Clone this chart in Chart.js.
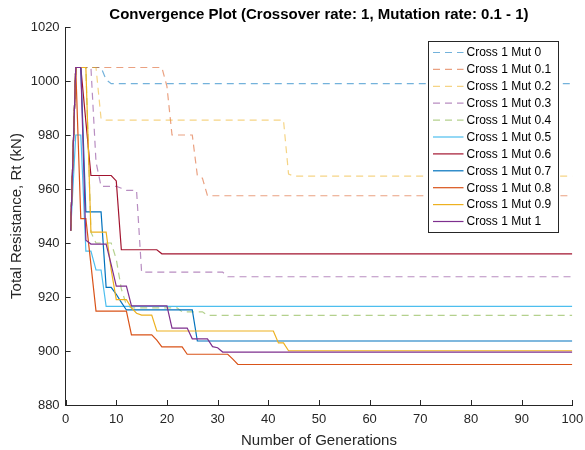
<!DOCTYPE html>
<html><head><meta charset="utf-8">
<script src="https://cdn.jsdelivr.net/npm/chart.js@4/dist/chart.umd.min.js"></script>
<style>html,body{margin:0;padding:0;background:#fff;}canvas{display:block;}</style>
</head><body>
<canvas id="c" width="585" height="450"></canvas>
<script>
const generations = [
1,2,3,4,5,6,7,8,9,10,11,12,13,14,15,16,17,18,19,20,
21,22,23,24,25,26,27,28,29,30,31,32,33,34,35,36,37,38,39,40,
41,42,43,44,45,46,47,48,49,50,51,52,53,54,55,56,57,58,59,60,
61,62,63,64,65,66,67,68,69,70,71,72,73,74,75,76,77,78,79,80,
81,82,83,84,85,86,87,88,89,90,91,92,93,94,95,96,97,98,99,100];

const seriesNames = ["Cross 1 Mut 0","Cross 1 Mut 0.1","Cross 1 Mut 0.2","Cross 1 Mut 0.3","Cross 1 Mut 0.4","Cross 1 Mut 0.5","Cross 1 Mut 0.6","Cross 1 Mut 0.7","Cross 1 Mut 0.8","Cross 1 Mut 0.9","Cross 1 Mut 1"];

const xTickValues = [0,10,20,30,40,50,60,70,80,90,100];
const yTickValues = [880,900,920,940,960,980,1000,1020];

const mut00 = [
944.5,1005,1005,1005,1005,1005,1005,1000.5,999,999,
999,999,999,999,999,999,999,999,999,999,
999,999,999,999,999,999,999,999,999,999,
999,999,999,999,999,999,999,999,999,999,
999,999,999,999,999,999,999,999,999,999,
999,999,999,999,999,999,999,999,999,999,
999,999,999,999,999,999,999,999,999,999,
999,999,999,999,999,999,999,999,999,999,
999,999,999,999,999,999,999,999,999,999,
999,999,999,999,999,999,999,999,999,999];
const mut01 = [
944.5,1005,1005,1005,1005,1005,1005,1005,1005,1005,
1005,1005,1005,1005,1005,1005,1005,1005,1005,998,
980,980,980,980,980,965,964,957.5,957.5,957.5,
957.5,957.5,957.5,957.5,957.5,957.5,957.5,957.5,957.5,957.5,
957.5,957.5,957.5,957.5,957.5,957.5,957.5,957.5,957.5,957.5,
957.5,957.5,957.5,957.5,957.5,957.5,957.5,957.5,957.5,957.5,
957.5,957.5,957.5,957.5,957.5,957.5,957.5,957.5,957.5,957.5,
957.5,957.5,957.5,957.5,957.5,957.5,957.5,957.5,957.5,957.5,
957.5,957.5,957.5,957.5,957.5,957.5,957.5,957.5,957.5,957.5,
957.5,957.5,957.5,957.5,957.5,957.5,957.5,957.5,957.5,957.5];
const mut02 = [
944.5,1005,1005,1005,1005,1005,986,985.5,985.5,985.5,
985.5,985.5,985.5,985.5,985.5,985.5,985.5,985.5,985.5,985.5,
985.5,985.5,985.5,985.5,985.5,985.5,985.5,985.5,985.5,985.5,
985.5,985.5,985.5,985.5,985.5,985.5,985.5,985.5,985.5,985.5,
985.5,985.5,985.5,965.5,964.8,964.8,964.8,964.8,964.8,964.8,
964.8,964.8,964.8,964.8,964.8,964.8,964.8,964.8,964.8,964.8,
964.8,964.8,964.8,964.8,964.8,964.8,964.8,964.8,964.8,964.8,
964.8,964.8,964.8,964.8,964.8,964.8,964.8,964.8,964.8,964.8,
964.8,964.8,964.8,964.8,964.8,964.8,964.8,964.8,964.8,964.8,
964.8,964.8,964.8,964.8,964.8,964.8,964.8,964.8,964.8,964.8];
const mut03 = [
944.5,1005,1005,1005,1005,970,961,961,961,961,
960.3,959.5,959.5,959.5,929.2,929.2,929.2,929.2,929.2,929.2,
929.2,929.2,929.2,929.2,929.2,929.2,929.2,929.2,929.2,929.2,
929.2,927.5,927.5,927.5,927.5,927.5,927.5,927.5,927.5,927.5,
927.5,927.5,927.5,927.5,927.5,927.5,927.5,927.5,927.5,927.5,
927.5,927.5,927.5,927.5,927.5,927.5,927.5,927.5,927.5,927.5,
927.5,927.5,927.5,927.5,927.5,927.5,927.5,927.5,927.5,927.5,
927.5,927.5,927.5,927.5,927.5,927.5,927.5,927.5,927.5,927.5,
927.5,927.5,927.5,927.5,927.5,927.5,927.5,927.5,927.5,927.5,
927.5,927.5,927.5,927.5,927.5,927.5,927.5,927.5,927.5,927.5];
const mut04 = [
944.5,1005,1005,1005,944,940,940,940,940,934,
923,917,916,916,916,916,916,916,916,916,
916,916,914.5,914.5,914.5,914.5,914.5,913.2,913.2,913.2,
913.2,913.2,913.2,913.2,913.2,913.2,913.2,913.2,913.2,913.2,
913.2,913.2,913.2,913.2,913.2,913.2,913.2,913.2,913.2,913.2,
913.2,913.2,913.2,913.2,913.2,913.2,913.2,913.2,913.2,913.2,
913.2,913.2,913.2,913.2,913.2,913.2,913.2,913.2,913.2,913.2,
913.2,913.2,913.2,913.2,913.2,913.2,913.2,913.2,913.2,913.2,
913.2,913.2,913.2,913.2,913.2,913.2,913.2,913.2,913.2,913.2,
913.2,913.2,913.2,913.2,913.2,913.2,913.2,913.2,913.2,913.2];
const mut05 = [
944.5,980,980,937,937,930,930,916.5,916.5,916.5,
916.5,916.5,916.5,916.5,916.5,916.5,916.5,916.5,916.5,916.5,
916.5,916.5,916.5,916.5,916.5,916.5,916.5,916.5,916.5,916.5,
916.5,916.5,916.5,916.5,916.5,916.5,916.5,916.5,916.5,916.5,
916.5,916.5,916.5,916.5,916.5,916.5,916.5,916.5,916.5,916.5,
916.5,916.5,916.5,916.5,916.5,916.5,916.5,916.5,916.5,916.5,
916.5,916.5,916.5,916.5,916.5,916.5,916.5,916.5,916.5,916.5,
916.5,916.5,916.5,916.5,916.5,916.5,916.5,916.5,916.5,916.5,
916.5,916.5,916.5,916.5,916.5,916.5,916.5,916.5,916.5,916.5,
916.5,916.5,916.5,916.5,916.5,916.5,916.5,916.5,916.5,916.5];
const mut06 = [
944.5,1005,1005,985,965,965,965,965,965,963,
937.5,937.5,937.5,937.5,937.5,937.5,937.5,937.5,936,936,
936,936,936,936,936,936,936,936,936,936,
936,936,936,936,936,936,936,936,936,936,
936,936,936,936,936,936,936,936,936,936,
936,936,936,936,936,936,936,936,936,936,
936,936,936,936,936,936,936,936,936,936,
936,936,936,936,936,936,936,936,936,936,
936,936,936,936,936,936,936,936,936,936,
936,936,936,936,936,936,936,936,936,936];
const mut07 = [
944.5,1005,1005,951.5,951.5,951.5,951.5,923.6,923.6,921,
918,915.2,915.2,915.2,915.2,915.2,915.2,915.2,915.2,915.2,
915.2,915.2,915.2,915.2,915.2,903.7,903.7,903.7,903.7,903.7,
903.7,903.7,903.7,903.7,903.7,903.7,903.7,903.7,903.7,903.7,
903.7,903.7,903.7,903.7,903.7,903.7,903.7,903.7,903.7,903.7,
903.7,903.7,903.7,903.7,903.7,903.7,903.7,903.7,903.7,903.7,
903.7,903.7,903.7,903.7,903.7,903.7,903.7,903.7,903.7,903.7,
903.7,903.7,903.7,903.7,903.7,903.7,903.7,903.7,903.7,903.7,
903.7,903.7,903.7,903.7,903.7,903.7,903.7,903.7,903.7,903.7,
903.7,903.7,903.7,903.7,903.7,903.7,903.7,903.7,903.7,903.7];
const mut08 = [
944.5,1005,949,949,932,914.8,914.8,914.8,914.8,914.8,
914.8,914.8,906,906,906,906,906,904,901.5,901.5,
901.5,901.5,901.5,898.8,898.8,898.8,898.8,898.8,898.8,898.8,
898.8,898.8,897,895,895,895,895,895,895,895,
895,895,895,895,895,895,895,895,895,895,
895,895,895,895,895,895,895,895,895,895,
895,895,895,895,895,895,895,895,895,895,
895,895,895,895,895,895,895,895,895,895,
895,895,895,895,895,895,895,895,895,895,
895,895,895,895,895,895,895,895,895,895];
const mut09 = [
944.5,1005,1005,1005,944,944,944,944,930,919,
919,919,916,914,913.3,913.3,913.3,907.4,907.4,907.4,
907.4,907.4,907.4,907.4,907.4,907.4,907.4,907.4,907.4,907.4,
907.4,907.4,907.4,907.4,907.4,907.4,907.4,907.4,907.4,907.4,
907.4,903,903,900.1,900.1,900.1,900.1,900.1,900.1,900.1,
900.1,900.1,900.1,900.1,900.1,900.1,900.1,900.1,900.1,900.1,
900.1,900.1,900.1,900.1,900.1,900.1,900.1,900.1,900.1,900.1,
900.1,900.1,900.1,900.1,900.1,900.1,900.1,900.1,900.1,900.1,
900.1,900.1,900.1,900.1,900.1,900.1,900.1,900.1,900.1,900.1,
900.1,900.1,900.1,900.1,900.1,900.1,900.1,900.1,900.1,900.1];
const mut10 = [
944.5,1005,1005,941,939.6,939.6,939.6,939.6,932,924,
924,924,916.7,916.7,916.7,916.7,916.7,916.7,916.7,916.7,
908.5,908.5,908.5,908.5,904.5,904.5,904.5,904.5,901.6,901.2,
899.6,899.6,899.6,899.6,899.6,899.6,899.6,899.6,899.6,899.6,
899.6,899.6,899.6,899.6,899.6,899.6,899.6,899.6,899.6,899.6,
899.6,899.6,899.6,899.6,899.6,899.6,899.6,899.6,899.6,899.6,
899.6,899.6,899.6,899.6,899.6,899.6,899.6,899.6,899.6,899.6,
899.6,899.6,899.6,899.6,899.6,899.6,899.6,899.6,899.6,899.6,
899.6,899.6,899.6,899.6,899.6,899.6,899.6,899.6,899.6,899.6,
899.6,899.6,899.6,899.6,899.6,899.6,899.6,899.6,899.6,899.6];

const allSeries = [mut00,mut01,mut02,mut03,mut04,mut05,mut06,mut07,mut08,mut09,mut10];

// styling
const matlab = ['0,114,189','217,83,25','237,177,32','126,47,142','119,172,48','77,190,238','162,20,47'];
const FONT = "'Liberation Sans', Arial, Helvetica, sans-serif";
const INK = '#262626';

const datasets = allSeries.map((vals, i) => {
  const dashed = i < 5;
  const rgb = matlab[i % 7];
  return {
    label: seriesNames[i],
    data: vals.map((v, k) => ({x: generations[k], y: v})),
    borderColor: dashed ? `rgba(${rgb},0.55)` : `rgb(${rgb})`,
    borderWidth: 1.2,
    borderDash: dashed ? [7,5] : [],
    pointRadius: 0,
    tension: 0,
    fill: false,
    order: -i
  };
});

const extras = {
  id: 'extras',
  afterDatasetsDraw(chart) {
    const ctx = chart.ctx, a = chart.chartArea;
    const xs = chart.scales.x, ys = chart.scales.y;
    ctx.save();
    ctx.strokeStyle = INK; ctx.lineWidth = 1; ctx.setLineDash([]);
    ctx.beginPath();
    xs.ticks.forEach(t => {
      const px = Math.round(xs.getPixelForValue(t.value)) + 0.5;
      ctx.moveTo(px, a.bottom); ctx.lineTo(px, a.bottom - 5);
    });
    ys.ticks.forEach(t => {
      const py = Math.round(ys.getPixelForValue(t.value)) + 0.5;
      ctx.moveTo(a.left, py); ctx.lineTo(a.left + 5, py);
    });
    ctx.stroke();

    // legend box
    const lx = 428.5, ly = 41.5, lw = 130, lh = 191;
    ctx.fillStyle = '#fff';
    ctx.fillRect(lx, ly, lw, lh);
    ctx.strokeStyle = INK;
    ctx.strokeRect(lx, ly, lw, lh);
    ctx.font = '12px ' + FONT;
    ctx.textBaseline = 'middle';
    ctx.textAlign = 'left';
    chart.data.datasets.forEach((ds, i) => {
      const y = 52.5 + i * 16.9;
      ctx.strokeStyle = ds.borderColor;
      ctx.lineWidth = ds.borderWidth;
      ctx.setLineDash(ds.borderDash);
      ctx.beginPath();
      ctx.moveTo(433, y); ctx.lineTo(463.5, y);
      ctx.stroke();
      ctx.fillStyle = '#000';
      ctx.fillText(ds.label, 466.5, y + 0.5);
    });
    ctx.restore();
  }
};

new Chart(document.getElementById('c'), {
  type: 'line',
  data: { datasets },
  plugins: [extras],
  options: {
    responsive: false,
    animation: false,
    events: [],
    layout: { padding: { left: 0, right: 12.7, top: 0, bottom: 0 } },
    plugins: {
      legend: { display: false },
      tooltip: { enabled: false },
      title: {
        display: true,
        fullSize: false,
        text: 'Convergence Plot (Crossover rate: 1, Mutation rate: 0.1 - 1)',
        color: '#000',
        font: { family: FONT, size: 15, weight: 'bold' },
        padding: { top: 6, bottom: 3 }
      }
    },
    scales: {
      x: {
        type: 'linear', min: 0, max: 100,
        afterBuildTicks: s => { s.ticks = xTickValues.map(v => ({value: v})); },
        afterFit: s => { s.height = 45; s.paddingLeft = 0; s.paddingRight = 0; },
        grid: { display: true, drawOnChartArea: false, drawTicks: false },
        border: { display: true, color: INK, width: 1 },
        ticks: { color: INK, font: { family: FONT, size: 13 }, padding: 7, maxRotation: 0, callback: v => String(v) },
        title: { display: true, text: 'Number of Generations', color: INK, font: { family: FONT, size: 15 }, padding: { top: 0, bottom: 0 } }
      },
      y: {
        type: 'linear', min: 880, max: 1020,
        afterBuildTicks: s => { s.ticks = yTickValues.map(v => ({value: v})); },
        afterFit: s => { s.width = 65.6; s.paddingTop = 0; s.paddingBottom = 0; },
        grid: { display: true, drawOnChartArea: false, drawTicks: false },
        border: { display: true, color: INK, width: 1 },
        ticks: { color: INK, font: { family: FONT, size: 13 }, padding: 6, callback: v => String(v) },
        title: { display: true, text: 'Total Resistance, Rt (kN)', color: INK, font: { family: FONT, size: 15 }, padding: { top: 8, bottom: 0 } }
      }
    }
  }
});
</script>
</body></html>
